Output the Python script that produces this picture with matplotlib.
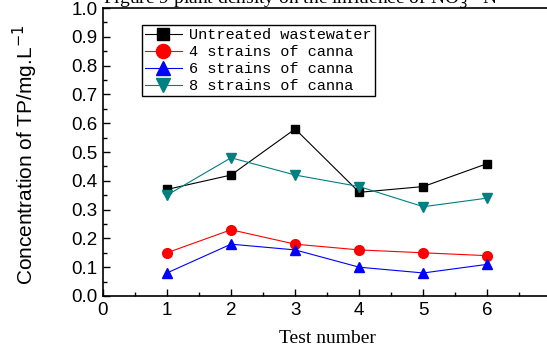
import matplotlib.pyplot as plt
from matplotlib.ticker import MultipleLocator

tests = [1, 2, 3, 4, 5, 6]
untreated = [0.37, 0.42, 0.58, 0.36, 0.38, 0.46]
canna4 = [0.15, 0.23, 0.18, 0.16, 0.15, 0.14]
canna6 = [0.08, 0.18, 0.16, 0.10, 0.08, 0.11]
canna8 = [0.35, 0.48, 0.42, 0.38, 0.31, 0.34]

labels = ["Untreated wastewater", "4 strains of canna",
          "6 strains of canna", "8 strains of canna"]

fig = plt.figure(figsize=(5.47, 3.51), dpi=100)
ax = fig.add_axes([0.188, 0.1567, 0.8203, 0.8205])

ax.plot(tests, untreated, color="black", marker="s", ms=6, lw=0.8, label=labels[0])
ax.plot(tests, canna4, color="red", marker="o", ms=7, lw=0.8, label=labels[1])
ax.plot(tests, canna6, color="blue", marker="^", ms=7, lw=0.8, label=labels[2])
ax.plot(tests, canna8, color="#008080", marker="v", ms=7, lw=0.8, label=labels[3])

ax.set_xlim(0, 7)
ax.set_ylim(0, 1.0)
ax.xaxis.set_major_locator(MultipleLocator(1))
ax.xaxis.set_minor_locator(MultipleLocator(0.5))
ax.yaxis.set_major_locator(MultipleLocator(0.1))
ax.yaxis.set_minor_locator(MultipleLocator(0.05))
ax.set_xticks([0, 1, 2, 3, 4, 5, 6])
ax.tick_params(which="both", direction="in", top=False, right=False)
ax.tick_params(which="major", length=5, width=1, labelsize=13.5, pad=4)
ax.tick_params(which="minor", length=3, width=1)
ax.set_yticks([i / 10 for i in range(11)])
ax.set_yticklabels([f"{i / 10:.1f}" for i in range(11)])
for lab in ax.get_xticklabels() + ax.get_yticklabels():
    lab.set_family("Liberation Sans")
for sp in ax.spines.values():
    sp.set_linewidth(1.2)

ax.set_xlabel("Test number", family="Liberation Serif", fontsize=14, labelpad=8)
ax.set_ylabel("Concentration of TP/mg.L$^{-1}$", family="Liberation Sans",
              fontsize=15)
ax.yaxis.set_label_coords(-0.14, 0.49)

leg = ax.legend(loc="upper left", bbox_to_anchor=(0.087, 0.941), borderaxespad=0,
                fancybox=False, edgecolor="black", framealpha=1, borderpad=0.2,
                labelspacing=0.2, handlelength=2.4, handletextpad=0.5,
                markerscale=1.45, prop={"family": "Liberation Mono", "size": 11})
leg.get_frame().set_linewidth(1.0)

fig.text(103 / 547, 1 - 4 / 351, "Figure 9 plant density on the influence of NO$_3^-$-N",
         family="Liberation Serif", fontsize=14, ha="left", va="baseline")

fig.savefig("out.png", dpi=100)
